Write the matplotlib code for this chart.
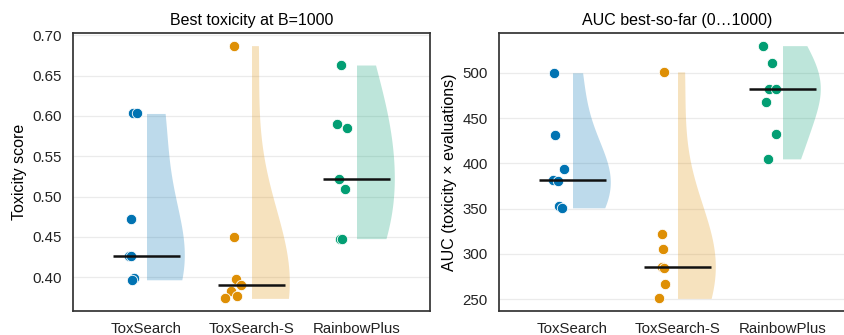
import numpy as np
import matplotlib
matplotlib.use('Agg')
import matplotlib.pyplot as plt

plt.rcParams['font.family'] = ['Liberation Sans', 'DejaVu Sans']

methods = ['ToxSearch', 'ToxSearch-S', 'RainbowPlus']
colors = ['#0173B2', '#DE8F05', '#029E73']

# best toxicity per seed at B=1000
best_tox = [
	[0.603, 0.603, 0.472, 0.427, 0.427, 0.399, 0.397],
	[0.687, 0.450, 0.398, 0.391, 0.383, 0.377, 0.374],
	[0.663, 0.590, 0.585, 0.522, 0.509, 0.448, 0.448],
]
best_tox_jitter = [
	[-0.13, -0.09, -0.15, -0.17, -0.15, -0.12, -0.14],
	[-0.17, -0.17, -0.15, -0.10, -0.20, -0.14, -0.25],
	[-0.15, -0.19, -0.09, -0.17, -0.11, -0.16, -0.14],
]

# area under best-so-far curve over 0..1000 evaluations
auc = [
	[500, 431, 394, 382, 381, 353, 351],
	[501, 322, 305, 286, 285, 267, 251],
	[530, 511, 482, 482, 468, 432, 405],
]
auc_jitter = [
	[-0.175, -0.17, -0.08, -0.185, -0.14, -0.13, -0.10],
	[-0.13, -0.15, -0.14, -0.15, -0.13, -0.115, -0.18],
	[-0.19, -0.10, -0.13, -0.06, -0.16, -0.06, -0.14],
]


def half_violin(ax, pos, vals, color, width=0.36, bw_adjust=1.2):
	vals = np.asarray(vals, dtype=float)
	bw = bw_adjust * vals.std(ddof=1) * len(vals) ** (-1 / 5)
	grid = np.linspace(vals.min(), vals.max(), 200)
	dens = np.exp(-0.5 * ((grid[:, None] - vals[None, :]) / bw) ** 2).sum(axis=1)
	dens = dens / dens.max() * width
	ax.fill_betweenx(grid, pos, pos + dens, color=color, alpha=0.26, lw=0)


def panel(ax, data, jitter, title, ylabel):
	for i, (vals, jit) in enumerate(zip(data, jitter)):
		half_violin(ax, i, vals, colors[i])
		ax.scatter(i + np.array(jit), vals, s=56, color=colors[i],
			edgecolor='white', linewidth=0.6, zorder=3)
		ax.plot([i - 0.32, i + 0.32], [np.median(vals)] * 2, color='#111111',
			lw=1.8, zorder=4, solid_capstyle='butt')
	ax.set_xlim(-0.7, 2.7)
	ax.set_xticks(range(3))
	ax.set_xticklabels(methods)
	ax.set_title(title, fontsize=11.5, pad=6)
	ax.set_ylabel(ylabel, fontsize=11.5, labelpad=4)
	ax.grid(axis='y', color='#ebebeb', lw=0.9)
	ax.set_axisbelow(True)
	ax.tick_params(length=0, labelsize=10.8, pad=8, colors='#222222')
	for s in ax.spines.values():
		s.set_color('#333333')
		s.set_linewidth(1.25)


fig = plt.figure(figsize=(8.44, 3.35), dpi=100)
ax1 = fig.add_axes([73 / 844, 24 / 335, 357 / 844, 278 / 335])
ax2 = fig.add_axes([499 / 844, 24 / 335, 357 / 844, 278 / 335])

panel(ax1, best_tox, best_tox_jitter, 'Best toxicity at B=1000', 'Toxicity score')
panel(ax2, auc, auc_jitter, 'AUC best-so-far (0\u20261000)', 'AUC (toxicity \u00d7 evaluations)')
ax1.set_yticks(np.arange(0.40, 0.701, 0.05))
ax1.set_yticklabels([f'{v:.2f}' for v in np.arange(0.40, 0.701, 0.05)])
ax2.set_yticks(range(250, 501, 50))

fig.savefig('out.png', dpi=100)
